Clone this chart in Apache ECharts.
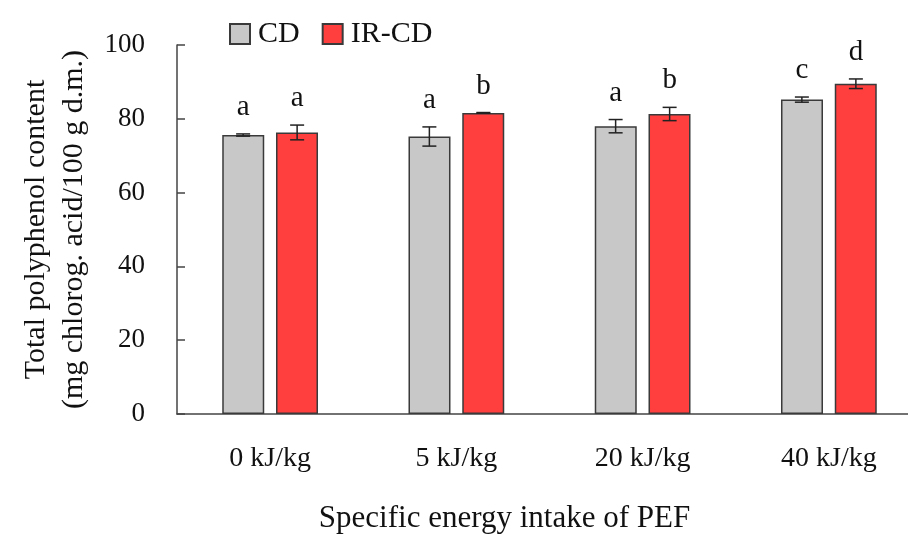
<!DOCTYPE html>
<html>
<head>
<meta charset="utf-8">
<script src="https://cdn.jsdelivr.net/npm/echarts@6/dist/echarts.min.js"></script>
<style>
  html, body { margin: 0; padding: 0; background: #fff; }
  #chart { width: 908px; height: 539px; }
</style>
</head>
<body>
<div id="chart"></div>
<script>
var categories = ['0 kJ/kg', '5 kJ/kg', '20 kJ/kg', '40 kJ/kg'];
var cdValues = [75.6, 75.2, 78.0, 85.2];
var cdErrors = [0.3, 2.6, 1.8, 0.7];
var cdLetters = ['a', 'a', 'a', 'c'];
var irValues = [76.3, 81.6, 81.3, 89.5];
var irErrors = [2.0, 0.1, 1.8, 1.3];
var irLetters = ['a', 'b', 'b', 'd'];
var yTicks = [0, 20, 40, 60, 80, 100];

var FONT = '"Liberation Serif", "DejaVu Serif", serif';
var AXIS_COLOR = '#444';

function errorSeries(name, values, errors, letters, offset) {
    return {
        name: name + '-err',
        type: 'custom',
        z: 5,
        data: values.map(function (v, i) { return [i, v, errors[i]]; }),
        renderItem: function (params, api) {
            var i = api.value(0);
            var v = api.value(1);
            var e = api.value(2);
            var top = api.coord([i, v + e]);
            var bot = api.coord([i, v - e]);
            var x = top[0] + offset;
            var cap = 7;
            var style = { stroke: '#222', lineWidth: 1.5 };
            return {
                type: 'group',
                children: [
                    { type: 'line', shape: { x1: x, y1: top[1], x2: x, y2: bot[1] }, style: style },
                    { type: 'line', shape: { x1: x - cap, y1: top[1], x2: x + cap, y2: top[1] }, style: style },
                    { type: 'line', shape: { x1: x - cap, y1: bot[1], x2: x + cap, y2: bot[1] }, style: style },
                    {
                        type: 'text',
                        style: {
                            x: x, y: top[1] - 12,
                            text: letters[params.dataIndex],
                            fill: '#111',
                            font: '29px ' + FONT,
                            textAlign: 'center',
                            textVerticalAlign: 'bottom'
                        }
                    }
                ]
            };
        }
    };
}

var chart = echarts.init(document.getElementById('chart'));
chart.setOption({
    animation: false,
    legend: {
        left: 229,
        top: 19,
        padding: 0,
        icon: 'rect',
        itemWidth: 20,
        itemHeight: 20,
        itemGap: 22,
        textStyle: { fontFamily: FONT, fontSize: 30, color: '#111', padding: [0, 0, 0, 3] },
        data: ['CD', 'IR-CD']
    },
    grid: { left: 177, right: -14, top: 45, bottom: 125, containLabel: false, outerBoundsMode: 'none' },
    xAxis: {
        type: 'category',
        data: categories,
        axisLine: { lineStyle: { color: AXIS_COLOR, width: 1.5 } },
        axisTick: { show: false },
        axisLabel: { fontFamily: FONT, fontSize: 28, color: '#111', margin: 31 },
        name: 'Specific energy intake of PEF',
        nameLocation: 'middle',
        nameGap: 89,
        nameTextStyle: { fontFamily: FONT, fontSize: 31, color: '#111', padding: [0, 90, 0, 0] }
    },
    yAxis: {
        type: 'value',
        min: 0,
        max: 100,
        interval: 20,
        axisLine: { show: true, lineStyle: { color: AXIS_COLOR, width: 1.5 } },
        axisTick: { show: true, inside: true, length: 8, lineStyle: { color: AXIS_COLOR, width: 1.5 } },
        splitLine: { show: false },
        axisLabel: {
            fontFamily: FONT, fontSize: 27, color: '#111', margin: 32,
            formatter: function (v) { return yTicks.indexOf(v) >= 0 ? String(v) : ''; }
        },
        name: 'Total polyphenol content\n(mg chlorog. acid/100 g d.m.)',
        nameLocation: 'middle',
        nameGap: 84,
        nameTextStyle: { fontFamily: FONT, fontSize: 30, color: '#111', lineHeight: 38 }
    },
    series: [
        {
            name: 'CD',
            type: 'bar',
            barWidth: 42,
            barGap: '28%',
            data: cdValues,
            itemStyle: { color: '#c8c8c8', borderColor: '#3a3a3a', borderWidth: 1.5 }
        },
        {
            name: 'IR-CD',
            type: 'bar',
            barWidth: 42,
            barGap: '28%',
            data: irValues,
            itemStyle: { color: '#ff3e3e', borderColor: '#3a3a3a', borderWidth: 1.5 }
        },
        errorSeries('CD', cdValues, cdErrors, cdLetters, -27),
        errorSeries('IR-CD', irValues, irErrors, irLetters, 27)
    ]
});
</script>
</body>
</html>
